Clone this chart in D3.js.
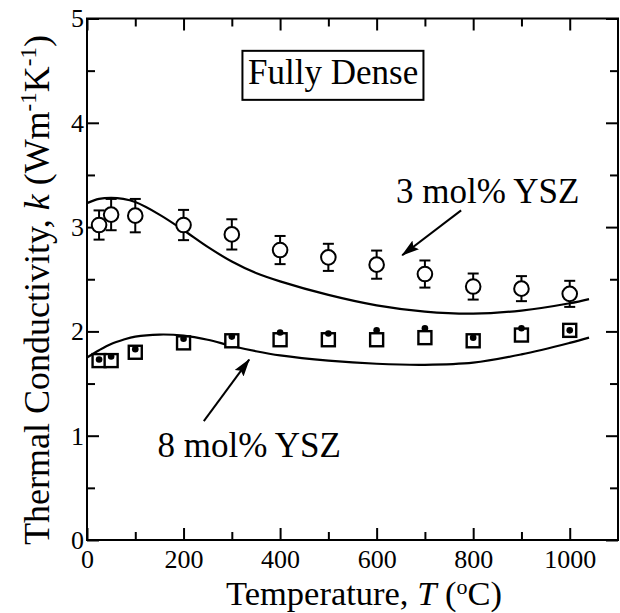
<!DOCTYPE html>
<html>
<head>
<meta charset="utf-8">
<script src="https://cdn.jsdelivr.net/npm/d3@7"></script>
<style>
  html, body { margin: 0; padding: 0; background: #fff; }
  svg { display: block; font-family: "Liberation Serif", "Times New Roman", serif; }
</style>
</head>
<body>
<script>
// ---- data ----
const tempsExp = [25, 50, 100, 200, 300, 400, 500, 600, 700, 800, 900, 1000];
const k3mol    = [3.02, 3.12, 3.11, 3.02, 2.93, 2.78, 2.71, 2.64, 2.55, 2.43, 2.41, 2.36];
const k3molErr = [0.14, 0.15, 0.16, 0.145, 0.145, 0.135, 0.13, 0.135, 0.13, 0.125, 0.12, 0.125];
const k8molSquare = [1.72, 1.72, 1.80, 1.89, 1.91, 1.92, 1.92, 1.92, 1.94, 1.91, 1.965, 2.01];
const k8molDot    = [1.73, 1.76, 1.83, 1.93, 1.95, 1.99, 1.98, 2.01, 2.03, 1.94, 2.03, 2.01];

const tempsModel = [0, 25, 50, 75, 100, 150, 200, 250, 300, 350, 400, 500, 600, 700, 800, 900, 1000, 1040];
const model3mol  = [3.23, 3.27, 3.28, 3.27, 3.24, 3.12, 2.97, 2.81, 2.67, 2.56, 2.48, 2.35, 2.25, 2.19, 2.17, 2.20, 2.27, 2.31];
const model8mol  = [1.75, 1.82, 1.88, 1.92, 1.95, 1.97, 1.96, 1.92, 1.86, 1.81, 1.77, 1.72, 1.69, 1.68, 1.70, 1.78, 1.89, 1.94];

const xMajorTicks = [0, 200, 400, 600, 800, 1000];
const xMinorTicks = [100, 300, 500, 700, 900];
const yMajorTicks = [0, 1, 2, 3, 4, 5];
const yMinorTicks = [0.5, 1.5, 2.5, 3.5, 4.5];

// annotations (data coordinates)
const label3 = { text: "3 mol% YSZ", T: 640, k: 3.23, arrowFrom: [775, 3.16], arrowTo: [653, 2.73] };
const label8 = { text: "8 mol% YSZ", T: 146, k: 0.80, arrowFrom: [242, 1.14], arrowTo: [336, 1.73] };
const boxLabel = { text: "Fully Dense", T: 510, k: 4.37, box: [322, 697, 4.69, 4.22] };

// ---- chart ----
const W = 620, H = 613;
const svg = d3.select("body").append("svg").attr("width", W).attr("height", H);

const x = d3.scaleLinear().domain([0, 1100]).range([87, 618]);
const y = d3.scaleLinear().domain([0, 5]).range([540, 18.5]);

const tickFont = 26;
const strokeW = 2;

function styleAxis(g) {
  g.select(".domain").remove();
  g.selectAll(".tick line").attr("stroke", "#000").attr("stroke-width", strokeW);
  g.selectAll(".tick text").attr("fill", "#000")
    .style("font-family", "'Liberation Serif', serif").style("font-size", tickFont + "px");
}

// bottom
svg.append("g").attr("transform", `translate(0,${y(0)})`)
  .call(d3.axisBottom(x).tickValues(xMajorTicks).tickSizeInner(-12).tickSizeOuter(0).tickPadding(10).tickFormat(d3.format("d")))
  .call(styleAxis);
svg.append("g").attr("transform", `translate(0,${y(0)})`)
  .call(d3.axisBottom(x).tickValues(xMinorTicks).tickSizeInner(-8).tickSizeOuter(0).tickFormat(""))
  .call(styleAxis);
// top
svg.append("g").attr("transform", `translate(0,${y(5)})`)
  .call(d3.axisTop(x).tickValues(xMajorTicks).tickSizeInner(-12).tickSizeOuter(0).tickFormat(""))
  .call(styleAxis);
svg.append("g").attr("transform", `translate(0,${y(5)})`)
  .call(d3.axisTop(x).tickValues(xMinorTicks).tickSizeInner(-8).tickSizeOuter(0).tickFormat(""))
  .call(styleAxis);
// left
svg.append("g").attr("transform", `translate(${x(0)},0)`)
  .call(d3.axisLeft(y).tickValues(yMajorTicks).tickSizeInner(-12).tickSizeOuter(0).tickPadding(3).tickFormat(d3.format("d")))
  .call(styleAxis);
svg.append("g").attr("transform", `translate(${x(0)},0)`)
  .call(d3.axisLeft(y).tickValues(yMinorTicks).tickSizeInner(-8).tickSizeOuter(0).tickFormat(""))
  .call(styleAxis);
// right
svg.append("g").attr("transform", `translate(${x(1100)},0)`)
  .call(d3.axisRight(y).tickValues(yMajorTicks).tickSizeInner(-12).tickSizeOuter(0).tickFormat(""))
  .call(styleAxis);
svg.append("g").attr("transform", `translate(${x(1100)},0)`)
  .call(d3.axisRight(y).tickValues(yMinorTicks).tickSizeInner(-8).tickSizeOuter(0).tickFormat(""))
  .call(styleAxis);

// frame
svg.append("rect")
  .attr("x", x(0)).attr("y", y(5))
  .attr("width", x(1100) - x(0)).attr("height", y(0) - y(5))
  .attr("fill", "none").attr("stroke", "#000").attr("stroke-width", strokeW);

// axis titles
const xTitle = svg.append("text").attr("x", 364).attr("y", 605)
  .attr("text-anchor", "middle").style("font-size", "34.5px").attr("fill", "#000");
xTitle.append("tspan").text("Temperature, ");
xTitle.append("tspan").style("font-style", "italic").text("T");
xTitle.append("tspan").text(" (");
xTitle.append("tspan").style("font-size", "22px").attr("dy", -11).text("o");
xTitle.append("tspan").attr("dy", 11).text("C)");

const yTitle = svg.append("text").attr("transform", "translate(49,290) rotate(-90)")
  .attr("text-anchor", "middle").style("font-size", "36px").attr("fill", "#000");
yTitle.append("tspan").text("Thermal Conductivity, ");
yTitle.append("tspan").style("font-style", "italic").text("k");
yTitle.append("tspan").text(" (Wm");
yTitle.append("tspan").style("font-size", "23px").attr("dy", -13).text("-1");
yTitle.append("tspan").attr("dy", 13).text("K");
yTitle.append("tspan").style("font-size", "23px").attr("dy", -13).text("-1");
yTitle.append("tspan").attr("dy", 13).text(")");

// model curves
const line = d3.line().x(d => x(d[0])).y(d => y(d[1])).curve(d3.curveCatmullRom.alpha(0.5));
[model3mol, model8mol].forEach(arr => {
  svg.append("path")
    .datum(tempsModel.map((t, i) => [t, arr[i]]))
    .attr("d", line).attr("fill", "none").attr("stroke", "#000").attr("stroke-width", 2.2);
});

// 3 mol% error bars + open circles
const g3 = svg.append("g");
const capHalf = 5.5;
tempsExp.forEach((t, i) => {
  const cx = x(t), lo = y(k3mol[i] - k3molErr[i]), hi = y(k3mol[i] + k3molErr[i]);
  g3.append("line").attr("x1", cx).attr("x2", cx).attr("y1", lo).attr("y2", hi)
    .attr("stroke", "#000").attr("stroke-width", 2);
  [lo, hi].forEach(yy => g3.append("line").attr("x1", cx - capHalf).attr("x2", cx + capHalf)
    .attr("y1", yy).attr("y2", yy).attr("stroke", "#000").attr("stroke-width", 2));
});
g3.selectAll("circle").data(tempsExp.map((t, i) => [t, k3mol[i]])).join("circle")
  .attr("cx", d => x(d[0])).attr("cy", d => y(d[1])).attr("r", 7.3)
  .attr("fill", "#fff").attr("stroke", "#000").attr("stroke-width", 2);

// 8 mol% squares and dots
const sq = 13;
svg.append("g").selectAll("rect").data(tempsExp.map((t, i) => [t, k8molSquare[i]])).join("rect")
  .attr("x", d => x(d[0]) - sq / 2).attr("y", d => y(d[1]) - sq / 2)
  .attr("width", sq).attr("height", sq)
  .attr("fill", "#fff").attr("stroke", "#000").attr("stroke-width", 2.4);
svg.append("g").selectAll("circle").data(tempsExp.map((t, i) => [t, k8molDot[i]])).join("circle")
  .attr("cx", d => x(d[0])).attr("cy", d => y(d[1])).attr("r", 3.3).attr("fill", "#000");

// arrowhead marker
svg.append("defs").append("marker")
  .attr("id", "arrow").attr("viewBox", "0 0 18 11").attr("refX", 17).attr("refY", 5.5)
  .attr("markerWidth", 18).attr("markerHeight", 11).attr("markerUnits", "userSpaceOnUse")
  .attr("orient", "auto")
  .append("path").attr("d", "M0,0 L18,5.5 L0,11 L3,5.5 Z").attr("fill", "#000");

[label3, label8].forEach(L => {
  svg.append("text").attr("x", x(L.T)).attr("y", y(L.k))
    .style("font-size", "35px").attr("fill", "#000").text(L.text);
  svg.append("line")
    .attr("x1", x(L.arrowFrom[0])).attr("y1", y(L.arrowFrom[1]))
    .attr("x2", x(L.arrowTo[0])).attr("y2", y(L.arrowTo[1]))
    .attr("stroke", "#000").attr("stroke-width", 2).attr("marker-end", "url(#arrow)");
});

// boxed label
const b = boxLabel.box;
svg.append("rect").attr("x", x(b[0])).attr("y", y(b[2]))
  .attr("width", x(b[1]) - x(b[0])).attr("height", y(b[3]) - y(b[2]))
  .attr("fill", "#fff").attr("stroke", "#000").attr("stroke-width", 2);
svg.append("text").attr("x", x(boxLabel.T)).attr("y", y(boxLabel.k))
  .attr("text-anchor", "middle").style("font-size", "35px").attr("fill", "#000").text(boxLabel.text);
</script>
</body>
</html>
